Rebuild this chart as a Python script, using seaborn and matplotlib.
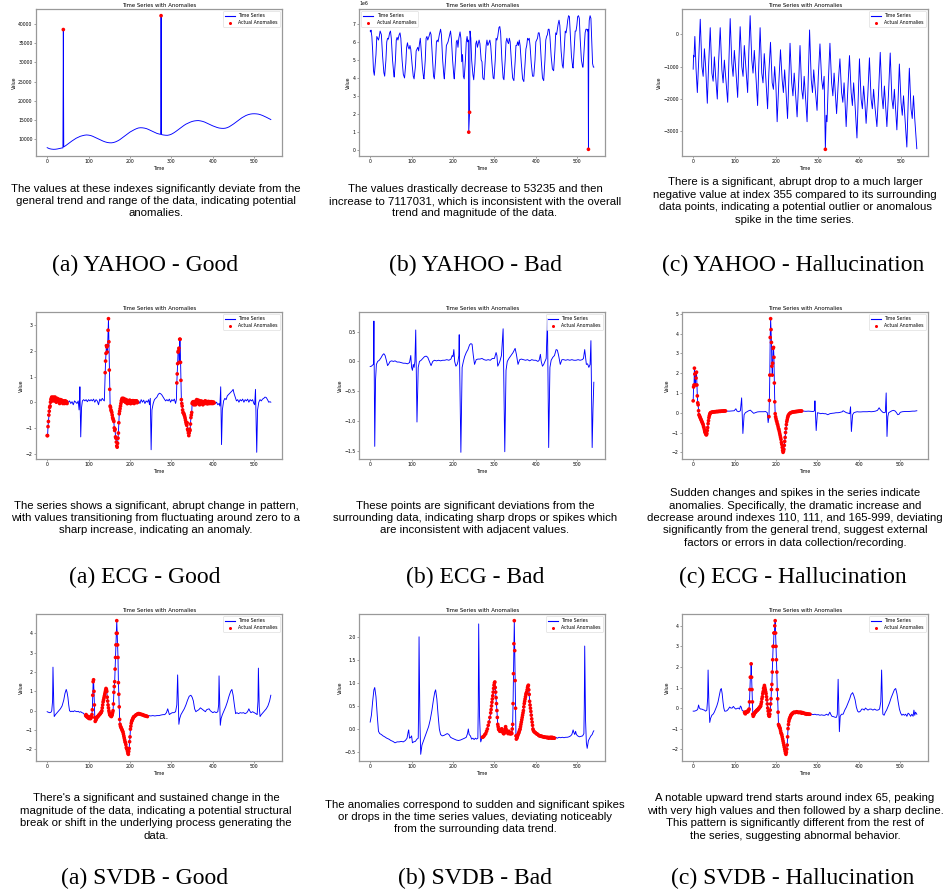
import numpy as np
import pandas as pd
import matplotlib
matplotlib.use("Agg")
import matplotlib.pyplot as plt
from matplotlib.lines import Line2D
import seaborn as sns

# ---------------- data ----------------
# YAHOO - Good
yahoo_good_pts = [(0,7850),(5,7600),(10,7480),(15,7420),(20,7440),(25,7520),(30,7640),(35,7760),(38,7800),
    (40,8050),(45,8400),(50,8800),(55,9200),(60,9600),(65,9950),(70,10300),(75,10550),(80,10800),(85,10950),
    (90,11080),(95,11150),(100,11100),(105,11000),(110,10800),(115,10550),(120,10300),(125,10050),(130,9800),
    (135,9550),(140,9350),(145,9200),(150,9120),(155,9100),(160,9180),(165,9350),(170,9600),(175,9900),
    (180,10300),(185,10700),(190,11100),(195,11500),(200,11900),(205,12200),(210,12500),(215,12750),
    (220,12950),(225,13020),(230,13000),(235,12920),(240,12780),(245,12560),(250,12300),(255,12050),
    (260,11800),(265,11550),(270,11400),(274,11300),(276,11250),(280,11150),(285,11080),(290,11050),
    (295,11150),(300,11350),(305,11650),(310,12000),(315,12400),(320,12800),(325,13200),(330,13600),
    (335,13950),(340,14200),(345,14450),(350,14650),(355,14780),(360,14850),(365,14880),(370,14800),
    (375,14680),(380,14500),(385,14250),(390,14000),(395,13750),(400,13500),(405,13300),(410,13100),
    (415,12950),(420,12880),(425,12850),(430,12900),(435,13050),(440,13300),(445,13650),(450,14000),
    (455,14400),(460,14800),(465,15200),(470,15600),(475,15900),(480,16200),(485,16400),(490,16550),
    (495,16630),(500,16650),(505,16620),(510,16550),(515,16400),(520,16200),(525,15950),(530,15700),
    (535,15420),(540,15150)]
yahoo_good_anom = [(39,38500),(275,42100)]

# YAHOO - Bad (values in millions)
yahoo_bad_pts = [(0,6.6),(1,6.55),(2,6.65),(4,6.3),(6,5.5),(8,4.4),(10,4.15),
    (14,5.3),(16,6.3),(18,6.2),(20,6.1),(22,6.3),(24,6.6),(27,6.4),(30,5.2),(33,4.3),(35,4.1),
    (38,5.0),(40,6.0),(42,6.2),(44,6.15),(47,6.5),(49,6.6),(51,6.2),(54,5.0),(57,4.2),(58,4.05),
    (61,5.0),(63,6.1),(65,6.25),(67,6.1),(70,6.4),(72,6.5),(74,6.2),(77,5.0),(80,4.2),(83,4.0),
    (86,4.8),(88,5.7),(90,5.95),(92,5.7),(94,5.6),(96,5.8),(98,5.6),(101,4.8),(104,4.1),(106,3.95),
    (109,4.6),(111,5.5),(113,5.6),(115,5.7),(117,5.5),(119,5.9),(121,6.2),(123,5.6),(126,4.6),(129,4.0),(130,3.95),
    (133,5.0),(135,6.2),(137,6.3),(139,6.1),(142,6.3),(145,6.55),(147,6.4),(150,5.2),(153,4.1),(155,3.95),
    (158,5.0),(160,6.0),(162,6.1),(164,6.0),(167,6.4),(170,6.7),(172,6.4),(175,5.0),(178,4.1),(179,3.95),
    (182,5.0),(184,5.8),(186,5.9),(188,6.0),(191,6.3),(194,6.6),(196,6.2),(199,5.0),(202,4.1),(203,3.95),
    (206,5.0),(208,6.0),(210,6.1),(212,5.7),(214,6.2),(217,6.55),(219,6.2),(221,4.9),(223,5.3),(225,4.1),(227,3.95),
    (230,5.0),(232,6.0),(234,6.3),(236,6.0),(237,6.1),(241,6.6),(243,6.2),(245,5.0),(248,4.2),(250,3.9),
    (253,4.8),(255,5.9),(257,6.05),(259,5.7),(261,5.9),(263,6.1),(265,5.9),(268,5.0),(270,4.9),(272,4.0),(275,3.9),
    (278,5.0),(280,5.8),(282,6.1),(284,5.8),(286,5.9),(289,6.1),(291,5.8),(294,4.8),(297,4.0),(299,3.95),
    (302,5.0),(304,6.2),(306,6.1),(308,6.3),(311,6.8),(313,6.85),(315,6.5),(318,5.0),(321,4.0),(323,3.9),
    (326,5.0),(328,6.0),(330,6.2),(332,6.0),(334,5.9),(336,6.2),(338,6.0),(341,4.9),(344,4.0),(347,3.85),
    (350,4.9),(352,5.8),(354,5.8),(356,6.0),(358,5.8),(360,6.1),(362,5.8),(365,4.8),(368,3.95),(371,3.8),
    (374,4.8),(376,5.6),(378,5.8),(380,6.2),(382,6.1),(384,6.2),(386,5.8),(389,4.8),(392,4.1),(395,4.1),
    (398,5.0),(400,6.0),(402,6.1),(404,6.2),(406,6.5),(408,6.5),(410,6.2),(413,5.0),(416,4.0),(419,3.85),
    (422,5.0),(424,6.1),(426,6.3),(428,6.4),(430,6.7),(432,6.7),(434,6.3),(437,5.2),(440,4.5),(443,4.4),
    (446,5.5),(448,6.5),(450,6.4),(452,6.7),(454,7.0),(456,7.2),(458,6.9),(461,5.5),(464,4.7),(466,4.55),
    (469,5.8),(471,6.6),(473,6.5),(475,6.8),(477,7.2),(479,7.45),(481,7.4),(483,6.5),(486,5.2),(489,4.6),(490,4.55),
    (493,5.8),(495,6.6),(497,6.6),(499,6.9),(501,7.4),(503,7.45),(505,7.3),(507,6.2),(510,5.0),(513,4.6),(514,4.6),
    (517,5.8),(519,6.5),(521,6.7),(523,6.7),(525,6.6),(526,6.7),(528,6.6),(529,7.2),(531,7.45),(533,7.3),
    (535,6.0),(537,4.8),(539,4.6),(540,4.6)]
yahoo_bad_anom = [(238,1.0),(240,2.1),(527,0.05)]

# YAHOO - Hallucination
yahoo_hal_pts = [(0,-1080),(1,-650),(2,-700),(4,-70),(7,-1100),(10,-1800),
    (13,-900),(17,460),(21,-1000),(24,-1300),(27,-450),(30,-1000),(34,-2130),
    (37,-1000),(41,200),(45,-1200),(48,-1450),(51,-700),(54,-1300),(58,-2000),
    (61,-900),(65,200),(69,-1100),(72,-1500),(75,-800),(78,-1300),(83,-2100),
    (86,-800),(89,480),(93,-900),(96,-1300),(99,-500),(102,-1000),(107,-1950),
    (110,-800),(113,230),(117,-1000),(120,-1300),(123,-350),(126,-900),(131,-1800),
    (134,-500),(137,570),(141,-800),(144,-1200),(147,-500),(150,-1100),(155,-2200),
    (158,-900),(161,200),(165,-1200),(168,-1500),(171,-600),(174,-1200),(179,-2300),
    (182,-1200),(186,-250),(190,-1500),(193,-1700),(196,-1000),(199,-1600),(202,-2700),
    (206,-1500),(210,-480),(214,-1400),(217,-1800),(220,-1100),(223,-1700),(227,-2600),
    (230,-1400),(233,-280),(237,-1500),(240,-1900),(243,-1200),(246,-1800),(250,-2550),
    (254,-1400),(257,-350),(261,-1700),(264,-2000),(267,-1300),(270,-1900),(274,-2700),
    (277,-1300),(280,130),(284,-1400),(287,-1800),(290,-1100),(293,-1600),(298,-2350),
    (301,-1300),(305,-300),(309,-1400),(312,-1700),(315,-1300),
    (320,-2500),(322,-2700),(325,-1500),(329,-280),(333,-1500),(336,-1900),(339,-1200),(342,-1800),(345,-2450),
    (349,-1500),(353,-760),(357,-1800),(360,-2100),(363,-1500),(365,-2000),(368,-2850),
    (372,-1700),(376,-660),(380,-1800),(383,-2200),(386,-1500),(389,-2100),(394,-3200),
    (397,-2000),(400,-760),(404,-2000),(407,-2300),(410,-1600),(413,-2100),(416,-2750),
    (420,-1900),(424,-730),(428,-2000),(431,-2300),(434,-1700),(437,-2200),(442,-2850),
    (446,-1800),(450,-560),(454,-1900),(457,-2300),(460,-1600),(463,-2200),(466,-2850),
    (470,-1800),(474,-580),(478,-2000),(481,-2300),(484,-1700),(487,-2300),(490,-2950),
    (493,-2000),(496,-920),(500,-2100),(503,-2500),(506,-1900),(509,-2500),(514,-3480),
    (517,-2200),(520,-1050),(524,-2300),(527,-2600),(530,-1900),(533,-2600),(538,-3530)]
yahoo_hal_anom = [(318,-3550)]

# ECG - Good
ecg_good_pts = [(51,0.0),(54,0.05),(57,-0.05),(60,0.02),(63,-0.1),(66,0.05),(69,0.0),(72,-0.05),(75,0.05),
    (77,-0.3),(78,0.0),(79,0.6),(81,-1.35),(83,-0.2),(85,0.05),(88,0.1),(91,0.05),(94,0.1),(97,0.02),(100,0.1),
    (103,0.05),(106,0.1),(109,0.05),(112,0.12),(115,0.0),(118,0.1),(121,0.05),(124,-0.1),(127,0.12),(130,0.05),
    (133,0.15),(136,0.08),(138,0.05),
    (221,0.05),(224,-0.05),(227,0.1),(230,0.0),(233,0.08),(236,-0.05),(239,0.05),(242,0.0),(245,0.1),(247,-0.1),
    (249,0.15),(251,-1.85),(253,-0.3),(256,-0.05),(259,0.1),(262,0.15),(265,0.2),(268,0.3),(271,0.35),(274,0.33),
    (277,0.28),(280,0.2),(283,0.12),(286,0.05),(289,0.1),(292,0.05),(295,0.12),(298,0.0),(301,0.1),(304,0.05),
    (307,0.12),(310,-0.05),(312,0.1),
    (406,-0.05),(409,0.0),(412,-0.1),(415,-0.05),(417,-0.15),(419,0.6),(421,-1.65),(423,-0.3),(426,0.05),
    (429,0.15),(432,0.1),(435,0.25),(438,0.3),(441,0.35),(444,0.4),(447,0.45),(449,0.5),(451,0.35),(454,0.2),
    (457,0.05),(460,0.1),(463,0.0),(466,0.1),(469,0.05),(472,0.12),(475,0.0),(478,0.1),(481,0.05),(484,0.12),
    (487,0.0),(490,0.1),(493,0.05),(496,0.1),(499,-0.05),(501,-0.1),(503,0.5),(506,-1.95),(508,-0.3),(511,0.0),
    (514,0.1),(517,0.05),(520,0.12),(523,0.15),(526,0.2),(529,0.18),(532,0.1),(535,0.0),(538,0.02),(540,0.0)]
ecg_good_anom = [(0,-1.3),(1,-1.3),(2,-0.95),(3,-0.75),(4,-0.5),(5,-0.35),(6,-0.2),(7,-0.15),(8,0.0),(9,0.1),
    (10,0.15),(11,0.2),(12,0.1),(13,0.05),(14,0.15),(15,0.2),(16,0.1),(17,0.15),(18,0.05),(19,0.2),(20,0.1),
    (21,0.05),(22,0.0),(23,0.1),(24,0.15),(25,0.05),(26,0.05),(27,0.12),(28,0.1),(29,0.0),(30,-0.05),(31,0.05),
    (32,0.1),(33,0.02),(34,0.0),(35,0.08),(36,0.05),(37,-0.02),(38,-0.05),(39,0.03),(40,0.05),(41,-0.02),
    (42,-0.05),(43,0.04),(44,0.05),(45,-0.03),(46,0.0),(47,0.02),(48,-0.05),
    (140,1.15),(141,1.6),(142,1.9),(143,2.2),(144,2.15),(145,1.95),(146,2.2),(147,2.8),(148,3.25),(149,2.35),
    (150,1.25),(151,0.5),(152,-0.15),(153,-0.2),(154,-0.3),(155,-0.35),(156,-0.4),(157,-0.5),(158,-0.6),
    (159,-0.65),(160,-0.7),(161,-0.75),(162,-1.0),(163,-1.1),(164,-1.05),(165,-1.35),(166,-1.4),(167,-1.55),
    (168,-1.7),(169,-1.75),(170,-1.6),(171,-1.4),(172,-1.2),(173,-0.8),(174,-0.45),(175,-0.35),(176,-0.25),
    (177,-0.15),(178,-0.05),(179,0.05),(180,0.1),(181,0.15),(182,0.05),(183,0.1),(184,0.15),(185,0.05),
    (186,0.05),(187,0.12),(188,0.1),(189,0.0),(190,0.0),(191,0.1),(192,0.05),(193,-0.05),(194,-0.05),(195,0.05),
    (196,0.05),(197,-0.02),(198,0.0),(199,0.08),(200,0.05),(201,-0.05),(202,-0.05),(203,0.05),(204,0.05),
    (205,-0.02),(206,0.0),(207,0.06),(208,0.05),(209,-0.04),(210,-0.05),(211,0.05),(212,0.05),(213,0.0),
    (214,0.0),(215,0.05),(216,0.05),(217,-0.02),(218,0.0),
    (313,0.75),(314,1.1),(315,1.5),(316,1.95),(317,2.0),(318,2.1),(319,1.55),(320,2.45),(321,2.45),(322,1.55),
    (323,0.85),(324,0.1),(325,-0.05),(326,-0.15),(327,-0.3),(328,-0.4),(329,-0.42),(330,-0.45),(331,-0.5),
    (332,-0.55),(333,-0.62),(334,-0.7),(335,-0.78),(336,-0.85),(337,-0.9),(338,-0.8),(339,-1.05),(340,-1.1),
    (341,-1.2),(342,-1.3),(343,-1.2),(344,-1.05),(345,-1.1),(346,-0.85),(347,-0.6),(348,-0.5),(349,-0.4),
    (350,-0.05),(351,0.0),(352,-0.05),(353,0.02),(354,-0.1),(355,0.0),(356,0.0),(357,-0.08),(358,-0.1),
    (359,0.05),(360,-0.05),(361,0.1),(362,0.05),(363,-0.02),(364,-0.05),(365,0.08),(366,0.0),(367,-0.06),
    (368,-0.1),(369,0.02),(370,0.05),(371,-0.03),(372,-0.05),(373,0.04),(374,0.0),(375,-0.06),(376,-0.1),
    (377,0.02),(378,0.0),(379,-0.03),(380,-0.05),(381,0.04),(382,0.05),(383,-0.02),(384,-0.05),(385,0.02),
    (386,0.0),(387,-0.06),(388,-0.05),(389,0.03),(390,0.0),(391,-0.04),(392,-0.05),(393,0.02),(394,0.0),
    (395,-0.03),(396,-0.05),(397,0.02),(398,0.0),(399,-0.04),(400,-0.05),(401,0.0),(402,0.0),(403,-0.03)]

# ECG - Bad
ecg_bad_pts = [(0,-0.085),(3,-0.08),(6,-0.06),(8,-0.05),(9,0.68),(11,-1.43),(13,-0.3),(15,-0.05),(18,0.0),
    (22,0.02),(26,0.06),(30,0.11),(33,0.13),(36,0.1),(39,0.02),(42,-0.07),(45,-0.04),(48,0.0),(52,0.01),(56,0.0),
    (60,0.01),(65,-0.01),(70,-0.01),(75,-0.02),(80,-0.03),(85,-0.03),(90,-0.04),(95,-0.02),(98,0.1),(100,-0.1),
    (102,-0.15),(104,-0.05),(106,-0.1),(108,0.0),(110,0.53),(113,-1.02),(116,-0.1),(119,0.0),(123,0.02),
    (127,0.05),(131,0.08),(135,0.09),(139,0.07),(143,0.0),(147,-0.07),(151,0.0),(155,0.02),(160,0.01),
    (165,0.02),(170,0.01),(175,0.02),(180,0.02),(185,0.03),(190,0.02),(195,0.04),(198,0.1),(200,0.08),
    (202,0.2),(204,0.0),(207,-0.08),(210,-0.05),(212,0.0),(214,0.1),(215,0.45),(219,-1.53),(222,-0.1),
    (225,0.0),(228,0.08),(232,0.15),(236,0.2),(240,0.28),(243,0.3),(246,0.29),(249,0.1),(252,-0.05),
    (256,0.03),(260,0.04),(265,0.04),(270,0.05),(275,0.03),(280,0.02),(285,0.03),(290,0.02),(295,0.05),
    (300,0.05),(304,0.15),(306,0.1),(308,-0.08),(310,-0.05),(313,0.0),(317,0.1),(321,0.55),(325,-1.52),
    (328,-0.15),(331,0.0),(335,0.05),(340,0.1),(345,0.15),(350,0.22),(353,0.12),(357,-0.05),(361,0.03),
    (365,0.04),(370,0.03),(375,0.02),(380,0.03),(385,0.01),(390,0.03),(395,0.02),(400,0.02),(405,0.0),
    (408,0.02),(411,0.12),(413,0.0),(416,-0.08),(419,-0.05),(422,0.0),(425,0.05),(428,0.72),(431,-1.45),
    (434,-0.1),(437,0.02),(441,0.07),(445,0.1),(449,0.2),(452,0.19),(455,0.1),(459,-0.05),(463,0.03),
    (467,0.03),(472,0.02),(477,0.03),(482,0.02),(487,0.03),(492,0.02),(497,0.02),(502,0.03),(507,0.02),
    (512,0.03),(515,0.05),(518,0.2),(520,0.08),(522,-0.05),(525,-0.04),(528,-0.1),(531,-0.05),(533,0.35),
    (536,-1.45),(538,-0.8),(540,-0.35)]
ecg_bad_anom = []

# ECG - Hallucination
ecg_hal_pts = [(82,0.08),(88,0.08),(94,0.09),(99,0.1),(103,0.2),(106,0.08),(110,0.05),(114,0.1),(117,0.75),
    (120,-1.05),(123,-0.1),(126,0.0),(130,0.05),(134,0.1),(138,0.13),(142,0.05),(146,-0.03),(150,0.0),
    (155,0.04),(160,0.05),(165,0.05),(170,0.05),(175,0.06),(179,0.0),(181,-0.5),
    (266,0.08),(272,0.07),(278,0.08),(284,0.07),(290,0.06),(293,0.1),(294,0.6),(297,-0.9),(300,0.0),
    (304,-0.02),(308,-0.05),(312,-0.03),(316,-0.05),(320,-0.05),(325,-0.1),(330,-0.05),(335,-0.03),
    (340,-0.02),(345,0.0),(350,0.0),(355,0.02),(360,0.05),(362,0.1),(366,0.05),(370,0.0),(374,-0.02),
    (378,-0.05),(380,0.3),(382,-0.95),(385,-0.1),(388,0.0),(392,0.03),(396,0.05),(400,0.04),(405,0.04),
    (410,0.05),(415,0.05),(420,0.05),(425,0.06),(430,0.05),(435,0.06),(440,0.08),(445,0.12),(449,0.25),
    (452,0.15),(455,0.08),(458,0.02),(461,0.0),(464,0.02),(466,1.0),(468,-1.2),(470,-0.2),(472,0.0),
    (476,0.05),(480,0.1),(484,0.12),(488,0.08),(491,0.0),(494,-0.1),(497,-0.08),(500,0.02),(505,0.05),
    (510,0.06),(515,0.06),(520,0.06),(525,0.07),(530,0.08),(535,0.08),(540,0.1)]
ecg_hal_anom = [(0,0.6),(1,1.3),(2,1.4),(3,2.25),(4,1.95),(5,1.4),(6,2.0),(7,1.75),(8,2.05),(9,1.4),(10,0.85),
    (11,0.5),(12,0.4),(13,0.1),(14,-0.1),(15,-0.15),(16,-0.2),(17,-0.25),(18,-0.3),(19,-0.35),(20,-0.4),
    (21,-0.45),(22,-0.5),(23,-0.55),(24,-0.6),(25,-0.7),(26,-0.75),(27,-0.85),(28,-0.95),(29,-1.0),(30,-1.05),
    (31,-1.1),(32,-1.12),(33,-1.05),(34,-0.9),(35,-0.75),(36,-0.55),(37,-0.4),(38,-0.25),(39,-0.15),(40,-0.08),
    (41,-0.03),(42,0.0),(44,0.02),(46,0.03),(48,0.04),(50,0.04),(52,0.05),(54,0.05),(56,0.06),(58,0.06),
    (60,0.06),(62,0.07),(64,0.07),(66,0.07),(68,0.08),(70,0.08),(72,0.08),(74,0.09),(76,0.09),(78,0.09),
    (183,-0.2),(184,0.62),(185,1.9),(186,3.8),(187,4.75),(188,4.2),(189,3.55),(190,2.35),(191,1.9),(192,2.5),
    (193,3.25),(194,3.3),(195,2.8),(196,1.5),(197,0.55),(198,-0.05),(199,-0.2),(200,-0.3),(201,-0.4),
    (202,-0.45),(203,-0.55),(204,-0.6),(205,-0.7),(206,-0.8),(207,-0.85),(208,-0.95),(209,-1.05),(210,-1.15),
    (211,-1.25),(212,-1.35),(213,-1.5),(214,-1.6),(215,-1.75),(216,-1.9),(217,-2.0),(218,-1.95),(219,-1.85),
    (220,-1.65),(221,-1.45),(222,-1.25),(223,-1.0),(224,-0.8),(225,-0.6),(226,-0.45),(227,-0.35),(228,-0.25),
    (229,-0.18),(230,-0.12),(232,-0.06),(234,-0.02),(236,0.0),(238,0.02),(240,0.03),(242,0.04),(244,0.05),
    (246,0.05),(248,0.06),(250,0.06),(252,0.07),(254,0.07),(256,0.08),(258,0.08),(260,0.08),(262,0.09)]

# SVDB - Good
svdb_good_pts = [(0,-0.05),(3,-0.08),(6,-0.1),(9,-0.08),(11,0.0),(13,0.5),(14,2.25),(16,0.3),(17,-0.3),
    (20,-0.2),(24,-0.1),(28,0.0),(32,0.1),(36,0.25),(40,0.55),(43,0.9),(46,1.1),(48,0.95),(50,0.7),(52,0.3),
    (54,0.0),(57,-0.05),(60,-0.02),(63,-0.05),(66,0.0),(69,-0.03),(72,-0.05),(75,-0.03),(78,-0.08),(81,-0.05),
    (84,-0.1),(87,-0.12),(90,-0.2),
    (246,-0.25),(250,-0.27),(255,-0.25),(260,-0.27),(265,-0.25),(270,-0.25),(275,-0.22),(280,-0.2),(284,-0.2),
    (288,-0.1),(291,0.1),(293,-0.05),(295,-0.2),(298,-0.15),(302,-0.1),(306,-0.1),(310,-0.05),(313,0.3),
    (315,1.85),(317,0.0),(318,-0.7),(320,-0.4),(323,-0.2),(327,-0.05),(331,0.1),(335,0.3),(339,0.55),
    (343,0.75),(347,0.8),(350,0.7),(353,0.5),(356,0.1),(359,-0.05),(362,0.0),(366,0.05),(370,0.15),(373,0.1),
    (376,0.05),(379,0.0),(382,-0.05),(385,0.05),(388,0.08),(391,0.1),(394,0.0),(397,-0.05),(400,-0.1),
    (404,-0.05),(408,-0.1),(412,-0.05),(414,0.3),(415,1.8),(417,0.0),(418,-0.75),(420,-0.4),(423,-0.2),
    (427,0.0),(431,0.2),(435,0.45),(439,0.75),(443,1.0),(446,1.1),(449,0.8),(452,0.3),(455,-0.15),(458,-0.1),
    (462,-0.15),(466,-0.1),(470,-0.12),(474,-0.1),(478,-0.15),(482,-0.1),(485,0.0),(487,0.1),(489,0.0),
    (492,-0.1),(496,-0.05),(500,-0.1),(504,-0.15),(507,-0.2),(509,0.5),(510,2.2),(512,0.2),(514,-0.3),
    (517,-0.2),(521,-0.1),(525,0.0),(529,0.1),(533,0.25),(537,0.5),(540,0.8)]
svdb_good_anom = [(93,-0.25),(94,-0.2),(95,-0.3),(96,-0.28),(97,-0.3),(98,-0.35),(99,-0.35),(100,-0.3),
    (101,-0.4),(102,-0.38),(103,-0.35),(104,-0.4),(105,-0.4),(106,-0.35),(107,-0.3),(108,-0.2),(109,0.05),
    (110,0.8),(111,1.5),(112,1.6),(113,1.0),(114,0.3),(115,-0.35),(116,-0.55),(117,-0.5),(118,-0.45),
    (119,-0.4),(120,-0.35),(121,-0.32),(122,-0.3),(123,-0.28),(124,-0.25),(125,-0.22),(126,-0.2),(127,-0.18),
    (128,-0.15),(129,-0.12),(130,-0.1),(131,-0.05),(132,0.0),(133,0.15),(134,0.3),(135,0.45),(136,0.55),
    (137,0.65),(138,0.75),(139,0.85),(140,0.95),(141,1.05),(142,1.15),(143,1.1),(144,1.0),(145,0.7),(146,0.5),
    (147,0.3),(148,0.15),(149,0.0),(150,-0.1),(151,-0.2),(152,-0.22),(153,-0.25),(154,-0.28),(155,-0.3),
    (156,-0.25),(157,-0.2),(158,-0.1),(159,0.0),(160,0.35),(161,0.95),(162,1.25),(163,1.5),(164,2.15),
    (165,2.75),(166,3.4),(167,4.0),(168,4.65),(169,4.0),(170,3.4),(171,2.75),(172,1.45),(173,0.85),(174,0.2),
    (175,-0.45),(176,-0.7),(177,-0.8),(178,-0.85),(179,-0.9),(180,-0.95),(181,-1.0),(182,-1.05),(183,-1.1),
    (184,-1.2),(185,-1.3),(186,-1.4),(187,-1.5),(188,-1.6),(189,-1.65),(190,-1.75),(191,-1.9),(192,-1.95),
    (193,-2.0),(194,-2.1),(195,-2.2),(196,-2.25),(197,-2.1),(198,-1.95),(199,-1.6),(200,-1.35),(201,-0.95),
    (202,-0.8),(203,-0.65),(204,-0.55),(205,-0.5),(206,-0.45),(207,-0.4),(208,-0.35),(209,-0.32),(210,-0.3),
    (212,-0.27),(214,-0.22),(216,-0.2),(218,-0.17),(220,-0.15),(222,-0.15),(224,-0.17),(226,-0.18),(228,-0.2),
    (230,-0.2),(232,-0.22),(234,-0.25),(236,-0.25),(238,-0.27),(240,-0.28),(242,-0.3)]

# SVDB - Bad
svdb_bad_pts = [(0,0.15),(3,0.3),(6,0.6),(9,0.85),(11,0.9),(14,0.7),(17,0.3),(20,-0.05),(23,-0.1),(27,-0.12),
    (31,-0.15),(35,-0.17),(40,-0.2),(45,-0.22),(50,-0.25),(55,-0.27),(60,-0.3),(65,-0.28),(70,-0.28),(75,-0.27),
    (80,-0.28),(85,-0.25),(89,-0.2),(92,-0.05),(93,-0.02),(95,-0.2),(98,-0.18),(100,-0.15),(102,-0.3),
    (105,-0.28),(109,-0.27),(113,-0.22),(116,-0.2),(117,0.5),(118,2.0),(120,0.2),(122,-0.55),(125,-0.35),
    (129,-0.25),(133,-0.15),(137,-0.05),(141,0.05),(145,0.2),(149,0.4),(153,0.65),(156,0.8),(158,0.85),
    (161,0.65),(164,0.3),(167,0.0),(170,-0.12),(174,-0.15),(178,-0.14),(182,-0.12),(186,-0.1),(190,-0.12),
    (194,-0.18),(198,-0.2),(203,-0.22),(208,-0.24),(213,-0.25),(218,-0.24),(223,-0.22),(228,-0.2),(232,-0.18),
    (235,-0.1),(237,0.0),(239,-0.12),(242,-0.15),(245,-0.22),(248,-0.2),(251,-0.23),(254,-0.2),(257,-0.22),
    (260,-0.2),(261,0.5),(262,2.28),(264,0.3),(266,-0.2),(267,-0.28),(269,-0.22),
    (448,-0.18),(452,-0.2),(456,-0.18),(460,-0.19),(464,-0.18),(468,-0.19),(472,-0.18),(476,-0.18),(480,-0.17),
    (484,-0.15),(487,-0.12),(490,-0.02),(492,-0.08),(494,-0.12),(496,-0.05),(498,-0.12),(501,-0.15),
    (505,-0.17),(509,-0.16),(513,-0.15),(516,-0.1),(517,0.5),(518,1.8),(520,0.2),(522,-0.3),(524,-0.42),
    (527,-0.25),(530,-0.2),(533,-0.15),(536,-0.12),(539,-0.05),(540,-0.04)]
svdb_bad_anom = [(271,-0.18),(273,-0.17),(275,-0.15),(277,-0.12),(279,-0.1),(281,-0.05),(283,0.0),(285,0.08),
    (287,0.15),(289,0.25),(291,0.35),(292,0.42),(293,0.5),(294,0.58),(295,0.65),(296,0.72),(297,0.8),
    (298,0.88),(299,0.95),(300,1.0),(301,1.02),(302,0.9),(303,0.8),(304,0.68),(305,0.55),(306,0.4),(307,0.25),
    (308,0.1),(309,0.05),(310,0.0),(311,-0.02),(312,-0.02),(313,-0.05),(314,-0.03),(315,-0.05),(316,-0.02),
    (317,0.0),(318,0.0),(319,-0.05),(320,-0.05),(321,-0.08),(322,-0.1),(323,-0.1),(324,-0.08),(325,-0.05),
    (326,0.0),(327,0.05),(328,0.0),(329,-0.05),(330,-0.05),(331,-0.05),(332,-0.08),(333,-0.1),(334,-0.07),
    (335,-0.05),(336,-0.08),(337,-0.1),(338,-0.1),(339,-0.1),(340,-0.1),(341,-0.08),(342,-0.1),(343,0.0),
    (344,0.1),(345,0.55),(346,1.2),(347,1.85),(348,2.35),(349,1.7),(350,1.05),(351,0.45),(352,-0.15),
    (353,-0.22),(354,-0.2),(355,-0.18),(356,-0.15),(357,-0.12),(358,-0.1),(359,-0.08),(360,-0.05),(361,-0.02),
    (362,0.0),(363,0.05),(364,0.1),(365,0.15),(366,0.2),(367,0.25),(368,0.3),(369,0.35),(370,0.4),(371,0.48),
    (372,0.55),(373,0.6),(374,0.65),(375,0.7),(376,0.75),(377,0.78),(378,0.8),(379,0.85),(380,0.9),(381,0.93),
    (382,0.95),(383,0.85),(384,0.75),(385,0.6),(386,0.52),(387,0.45),(388,0.38),(389,0.3),(390,0.22),
    (391,0.15),(392,0.08),(393,0.0),(394,-0.03),(395,-0.05),(397,-0.07),(399,-0.08),(401,-0.1),(403,-0.11),
    (405,-0.12),(407,-0.14),(409,-0.15),(411,-0.15),(413,-0.16),(415,-0.16),(417,-0.17),(419,-0.17),
    (421,-0.18),(423,-0.18),(425,-0.18),(427,-0.19),(429,-0.18),(431,-0.2),(433,-0.19),(435,-0.18),(437,-0.2),
    (439,-0.18),(441,-0.2),(443,-0.19),(445,-0.2)]

# SVDB - Hallucination
svdb_hal_pts = [(0,-0.15),(3,-0.15),(6,-0.13),(9,-0.1),(11,-0.05),(13,0.15),(15,0.0),(18,-0.05),(21,-0.05),
    (24,-0.08),(27,-0.1),(30,-0.15),(33,-0.1),(35,0.5),(36,1.85),(38,0.2),(40,-0.7),(42,-0.5),(45,-0.35),
    (48,-0.3),(51,-0.2),(54,-0.05),(57,0.1),(60,0.3),(63,0.6),(66,0.9),(68,0.95),(70,0.7),(72,0.3),(74,0.0),
    (76,-0.15),(79,-0.15),(82,-0.12),(85,-0.05),(88,0.05),(91,0.0),(94,0.0),(97,0.08),(100,0.0),(103,-0.05),
    (106,-0.02),(109,0.0),(112,-0.05),(114,0.1),(116,0.05),(118,-0.1),(121,-0.15),
    (286,-0.3),(290,-0.32),(294,-0.3),(298,-0.33),(302,-0.32),(306,-0.35),(310,-0.33),(314,-0.35),(318,-0.35),
    (322,-0.3),(326,-0.35),(330,-0.2),(332,-0.3),(335,-0.4),(339,-0.42),(343,-0.45),(346,-0.45),(348,-0.3),
    (350,1.4),(352,-0.2),(353,-1.15),(355,-0.4),(358,-0.3),(362,-0.3),(366,-0.1),(370,0.05),(374,0.25),
    (378,0.45),(381,0.65),(385,0.75),(388,0.6),(391,0.4),(394,0.05),(397,-0.15),(400,-0.2),(404,-0.15),
    (407,-0.05),(410,-0.05),(413,-0.1),(416,0.0),(419,-0.05),(422,-0.1),(426,-0.05),(430,-0.05),(434,-0.1),
    (438,-0.05),(442,-0.1),(446,-0.1),(450,-0.05),(453,0.3),(455,1.85),(457,0.2),(458,-0.3),(461,-0.35),
    (464,-0.2),(467,-0.1),(470,0.05),(474,0.25),(478,0.5),(482,0.7),(486,0.9),(489,0.95),(492,0.7),(495,0.3),
    (498,-0.05),(501,-0.25),(504,-0.35),(507,-0.3),(510,-0.35),(513,-0.3),(516,-0.4),(519,-0.25),(522,-0.3),
    (525,-0.4),(528,-0.3),(531,-0.4),(533,-0.1),(535,-0.35),(537,-0.2),(540,-0.3)]
svdb_hal_anom = [(124,-0.2),(125,-0.25),(126,-0.28),(127,-0.22),(128,-0.2),(129,-0.18),(130,-0.2),(131,-0.15),
    (132,-0.18),(133,-0.15),(134,-0.1),(135,-0.05),(136,0.3),(137,0.9),(138,1.5),(139,1.5),(140,2.15),(141,1.5),
    (142,0.9),(143,0.3),(144,-0.3),(145,-0.4),(146,-0.35),(147,-0.3),(148,-0.25),(149,-0.22),(150,-0.2),
    (151,-0.18),(152,-0.15),(153,-0.13),(154,-0.1),(155,-0.1),(156,-0.08),(157,-0.05),(158,-0.03),(159,0.0),
    (160,0.02),(161,0.05),(162,0.08),(163,0.1),(164,0.2),(165,0.3),(166,0.45),(167,0.55),(168,0.7),(169,0.8),
    (170,0.95),(171,1.0),(172,1.1),(173,1.0),(174,0.9),(175,0.8),(176,0.7),(177,0.55),(178,0.4),(179,0.2),
    (180,0.0),(181,-0.15),(182,-0.3),(183,-0.38),(184,-0.4),(185,-0.3),(186,-0.1),(187,0.2),(188,0.45),
    (189,0.9),(190,1.15),(191,1.75),(192,2.35),(193,3.0),(194,3.0),(195,3.65),(196,3.65),(197,4.0),(198,4.25),
    (199,3.65),(200,3.0),(201,2.35),(202,1.75),(203,0.9),(204,0.45),(205,-0.2),(206,-0.8),(207,-0.85),
    (208,-0.9),(209,-0.95),(210,-1.0),(211,-1.1),(212,-1.2),(213,-1.25),(214,-1.3),(215,-1.4),(216,-1.5),
    (217,-1.6),(218,-1.7),(219,-1.8),(220,-1.9),(221,-2.0),(222,-2.1),(223,-2.2),(224,-2.25),(225,-2.15),
    (226,-2.0),(227,-1.8),(228,-1.4),(229,-1.0),(230,-0.8),(231,-0.65),(232,-0.55),(233,-0.5),(234,-0.45),
    (235,-0.4),(236,-0.35),(237,-0.32),(238,-0.3),(239,-0.28),(240,-0.25),(242,-0.22),(244,-0.2),(246,-0.22),
    (248,-0.2),(250,-0.18),(252,-0.2),(254,-0.22),(256,-0.2),(258,-0.22),(260,-0.2),(262,-0.25),(264,-0.22),
    (266,-0.25),(268,-0.25),(270,-0.28),(272,-0.27),(274,-0.3),(276,-0.28),(278,-0.3),(280,-0.3),(282,-0.3)]

captions = [
    "The values at these indexes significantly deviate from the\ngeneral trend and range of the data, indicating potential\nanomalies.",
    "The values drastically decrease to 53235 and then\nincrease to 7117031, which is inconsistent with the overall\ntrend and magnitude of the data.",
    "There is a significant, abrupt drop to a much larger\nnegative value at index 355 compared to its surrounding\ndata points, indicating a potential outlier or anomalous\nspike in the time series.",
    "The series shows a significant, abrupt change in pattern,\nwith values transitioning from fluctuating around zero to a\nsharp increase, indicating an anomaly.",
    "These points are significant deviations from the\nsurrounding data, indicating sharp drops or spikes which\nare inconsistent with adjacent values.",
    "Sudden changes and spikes in the series indicate\nanomalies. Specifically, the dramatic increase and\ndecrease around indexes 110, 111, and 165-999, deviating\nsignificantly from the general trend, suggest external\nfactors or errors in data collection/recording.",
    "There's a significant and sustained change in the\nmagnitude of the data, indicating a potential structural\nbreak or shift in the underlying process generating the\ndata.",
    "The anomalies correspond to sudden and significant spikes\nor drops in the time series values, deviating noticeably\nfrom the surrounding data trend.",
    "A notable upward trend starts around index 65, peaking\nwith very high values and then followed by a sharp decline.\nThis pattern is significantly different from the rest of\nthe series, suggesting abnormal behavior.",
]
sublabels = ["(a) YAHOO - Good", "(b) YAHOO - Bad", "(c) YAHOO - Hallucination",
             "(a) ECG - Good", "(b) ECG - Bad", "(c) ECG - Hallucination",
             "(a) SVDB - Good", "(b) SVDB - Bad", "(c) SVDB - Hallucination"]

panels = [
    (yahoo_good_pts, yahoo_good_anom, 1.0, "upper right"),
    (yahoo_bad_pts, yahoo_bad_anom, 1e6, "upper left"),
    (yahoo_hal_pts, yahoo_hal_anom, 1.0, "upper right"),
    (ecg_good_pts, ecg_good_anom, 1.0, "upper right"),
    (ecg_bad_pts, ecg_bad_anom, 1.0, "upper right"),
    (ecg_hal_pts, ecg_hal_anom, 1.0, "upper right"),
    (svdb_good_pts, svdb_good_anom, 1.0, "upper right"),
    (svdb_bad_pts, svdb_bad_anom, 1.0, "upper right"),
    (svdb_hal_pts, svdb_hal_anom, 1.0, "upper right"),
]

# ---------------- layout ----------------
W, H = 947, 893
fig = plt.figure(figsize=(W / 100, H / 100), dpi=100)
COL_X = [36, 359, 682]
ROW_Y = [9, 312, 614]
AW, AH = 246, 147
CAP_X = [156, 475, 795]
CAP_Y = [201, 518, 817]
LAB_X = [145, 475, 793]
LAB_Y = [265, 577, 878]

SMALL = 3.3
for i, (pts, anom, unit, loc) in enumerate(panels):
    r, c = divmod(i, 3)
    ax = fig.add_axes([COL_X[c] / W, 1 - (ROW_Y[r] + AH) / H, AW / W, AH / H])
    series = pd.DataFrame(sorted(pts + anom), columns=["Time", "Value"]).drop_duplicates("Time")
    series["Value"] = series["Value"] * unit
    sns.lineplot(data=series, x="Time", y="Value", ax=ax, color="blue", lw=0.65,
                 sort=False, estimator=None, legend=False)
    if anom:
        adf = pd.DataFrame(anom, columns=["Time", "Value"])
        adf["Value"] = adf["Value"] * unit
        sns.scatterplot(data=adf, x="Time", y="Value", ax=ax, color="red", s=7,
                        edgecolor="none", legend=False, zorder=3)
    ax.set_xticks([0, 100, 200, 300, 400, 500])
    ax.set_title("Time Series with Anomalies", fontsize=3.9, pad=1.5)
    ax.set_xlabel("Time", fontsize=SMALL, labelpad=1)
    ax.set_ylabel("Value", fontsize=SMALL, labelpad=1)
    ax.tick_params(labelsize=SMALL, length=1.5, width=0.4, pad=1, color="#555555")
    ax.yaxis.get_offset_text().set_fontsize(SMALL)
    for s in ax.spines.values():
        s.set_color("#999999")
        s.set_linewidth(0.9)
    handles = [Line2D([], [], color="blue", lw=0.8),
               Line2D([], [], color="red", marker="o", ls="none", markersize=2.2, markeredgewidth=0)]
    leg = ax.legend(handles, ["Time Series", "Actual Anomalies"], loc=loc, fontsize=SMALL, frameon=True,
                    borderpad=0.4, handlelength=2.2, labelspacing=0.5)
    leg.get_frame().set_linewidth(0.4)
    leg.get_frame().set_edgecolor("#cccccc")

    fig.text(CAP_X[c] / W, 1 - CAP_Y[r] / H, captions[i], ha="center", va="center",
             multialignment="center", fontsize=8.2, family="Liberation Sans", linespacing=1.3)
    fig.text(LAB_X[c] / W, 1 - LAB_Y[r] / H, sublabels[i], ha="center", va="center",
             fontsize=17, family="Liberation Serif")

fig.savefig("out.png", dpi=100, facecolor="white")
